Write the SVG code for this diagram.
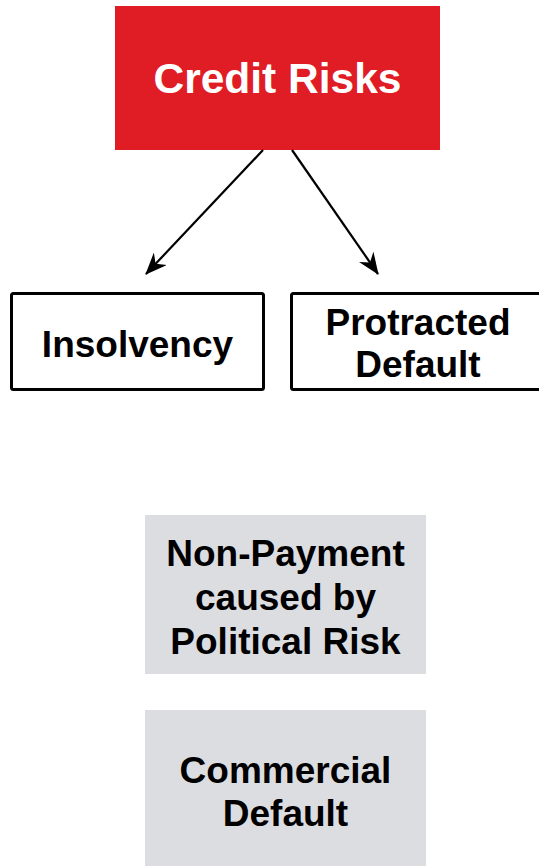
<svg xmlns="http://www.w3.org/2000/svg" width="539" height="866" viewBox="0 0 539 866">
  <style>
    .lbl { font-family: "Liberation Sans", Arial, sans-serif; font-weight: bold; text-anchor: middle; }
    .dark { fill: #000000; font-size: 37px; }
    .outline { fill: #ffffff; stroke: #000000; stroke-width: 3; }
    .grey { fill: #dcdde0; }
    .conn { stroke: #000000; stroke-width: 2.2; fill: none; }
  </style>
  <defs>
    <marker id="head" viewBox="0 0 22 18" refX="21" refY="9" markerWidth="22" markerHeight="18" markerUnits="userSpaceOnUse" orient="auto">
      <path d="M0,0 L22,9 L0,18 L7,9 Z" fill="#000000"/>
    </marker>
  </defs>
  <rect width="539" height="866" fill="#ffffff"/>

  <g id="credit-risks">
    <rect x="115" y="6" width="325" height="144" fill="#e01c24"/>
    <text class="lbl" x="277.5" y="93" font-size="42.5" fill="#ffffff">Credit Risks</text>
  </g>

  <g id="insolvency">
    <rect class="outline" x="11.5" y="293.5" width="252" height="96" rx="2"/>
    <text class="lbl dark" x="137.5" y="357">Insolvency</text>
  </g>

  <g id="protracted-default">
    <rect class="outline" x="291.5" y="293.5" width="256" height="96" rx="2"/>
    <text class="lbl dark" x="418" y="335">Protracted</text>
    <text class="lbl dark" x="418" y="377">Default</text>
  </g>

  <g id="non-payment">
    <rect class="grey" x="145" y="515" width="281" height="159"/>
    <text class="lbl dark" x="285.5" y="566">Non-Payment</text>
    <text class="lbl dark" x="285.5" y="610">caused by</text>
    <text class="lbl dark" x="285.5" y="654">Political Risk</text>
  </g>

  <g id="commercial-default">
    <rect class="grey" x="145" y="710" width="281" height="160"/>
    <text class="lbl dark" x="285.5" y="783">Commercial</text>
    <text class="lbl dark" x="285.5" y="826">Default</text>
  </g>

  <g id="connectors">
    <line class="conn" x1="263" y1="150" x2="146" y2="274" marker-end="url(#head)"/>
    <line class="conn" x1="292" y1="150" x2="378" y2="274" marker-end="url(#head)"/>
  </g>
</svg>
